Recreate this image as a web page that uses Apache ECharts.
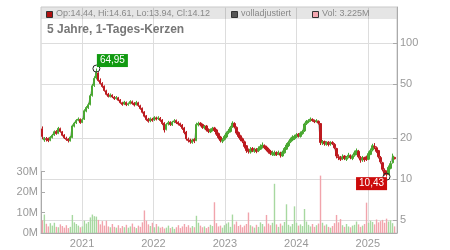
<!DOCTYPE html>
<html><head><meta charset="utf-8">
<script src="https://cdn.jsdelivr.net/npm/echarts@6/dist/echarts.min.js"></script>
<style>html,body{margin:0;padding:0;background:#fff}#c{width:450px;height:250px}</style>
</head><body><div id="c"></div>
<script>
const open = [23.4,19.4,19.8,19.9,19.3,20.2,21.1,22.4,21.7,23.5,
22.3,21.1,20.0,19.7,19.1,20.2,24.5,25.9,27.1,27.5,
26.1,27.6,31.6,33.4,35.4,41.2,48.8,55.4,60.2,53.2,
50.4,48.2,44.6,42.2,40.4,41.4,40.0,39.2,39.6,38.2,
36.4,35.6,36.6,35.4,35.9,37.0,36.2,35.2,36.4,34.6,
33.2,31.2,29.2,27.6,26.8,27.6,27.2,28.2,27.8,28.0,
27.2,25.8,23.2,25.4,26.2,25.0,26.4,27.0,26.2,25.6,
25.0,23.8,22.2,19.6,19.4,18.6,19.6,19.2,25.0,25.8,
25.2,23.8,24.6,23.2,22.2,22.8,23.8,23.0,21.6,20.4,
19.0,19.6,20.4,22.0,22.4,24.2,25.6,24.0,22.0,20.8,
19.8,18.8,17.6,16.4,15.8,16.8,16.0,16.6,16.2,16.6,
17.2,17.6,17.2,16.6,16.0,15.2,15.0,15.7,15.2,15.5,
14.8,15.6,16.6,17.6,18.8,19.4,19.8,20.4,21.4,20.6,
21.6,22.6,25.6,26.4,27.0,27.4,26.8,26.6,26.6,25.6,
18.4,18.9,18.0,18.7,18.2,18.6,18.0,16.8,14.6,14.3,
14.2,14.8,14.0,14.6,14.8,14.2,15.0,15.4,16.0,14.4,
13.9,14.4,14.6,14.0,15.2,16.4,17.4,17.0,16.2,14.4,
13.2,11.6,11.0,10.9,12.0,13.2,14.44];
const close = [20.6,19.9,19.6,19.2,20.3,21.0,22.3,21.6,23.6,22.4,
21.0,20.1,19.6,19.2,20.4,24.6,25.8,27.0,27.6,26.0,
27.4,31.8,33.6,35.2,41.0,48.5,55.0,61.0,53.0,50.5,
48.0,44.8,42.0,40.5,41.6,40.2,39.0,39.8,38.0,36.5,
35.4,36.8,35.2,35.8,37.2,36.0,35.0,36.6,34.8,33.0,
31.0,29.0,27.4,26.6,27.8,27.0,28.4,27.6,28.2,27.0,
25.6,23.0,25.2,26.0,25.2,26.2,26.8,26.0,25.4,24.8,
23.6,22.0,19.8,19.2,18.8,19.4,19.0,25.2,25.6,25.0,
24.0,24.4,23.0,22.4,23.0,23.6,22.8,21.4,20.2,19.2,
19.4,20.6,21.8,22.6,24.0,25.8,24.2,21.8,20.6,19.6,
19.0,17.4,16.2,16.0,16.6,16.2,16.4,16.0,16.8,17.4,
17.8,17.0,16.4,15.8,15.4,15.6,15.6,15.2,15.6,15.0,
15.8,16.8,17.8,18.6,19.6,20.4,20.6,21.2,20.8,21.8,
22.4,25.4,26.6,26.8,27.6,27.0,26.4,26.8,25.8,18.6,
18.8,18.2,18.6,18.0,18.4,18.2,17.0,14.8,14.4,14.0,
14.6,14.2,14.4,15.0,14.4,14.8,15.6,16.2,14.6,13.8,
14.2,13.9,14.0,15.4,16.2,17.6,17.2,16.0,14.6,13.4,
11.8,11.0,10.8,12.2,13.0,14.8,14.12];
const low = [19.6,18.8,18.9,18.7,19.0,19.9,20.8,21.2,21.4,22.0,
20.6,19.7,19.1,18.6,18.9,20.0,24.0,25.4,26.6,25.5,
25.8,27.2,31.0,32.8,34.8,40.4,47.6,54.0,52.0,49.6,
47.0,44.0,41.2,39.8,39.8,39.4,38.2,38.4,37.4,35.8,
34.6,35.0,34.4,34.6,35.4,35.2,34.2,34.8,34.0,32.4,
30.4,28.4,26.8,26.0,26.2,26.4,26.8,27.0,27.2,26.4,
25.0,22.0,22.8,24.8,24.6,24.6,25.8,25.4,24.8,24.2,
23.0,21.4,19.2,18.6,18.2,18.2,18.4,19.0,24.4,24.4,
23.4,23.2,22.4,21.8,21.8,22.4,22.2,20.8,19.6,18.6,
18.4,19.2,20.0,21.4,22.0,23.8,23.6,21.2,20.0,19.0,
18.4,16.8,15.6,15.4,15.4,15.8,15.6,15.5,15.8,16.4,
16.8,16.6,16.0,15.4,15.0,14.8,14.8,14.8,15.0,14.4,
14.6,15.4,16.4,17.2,18.4,19.0,19.4,20.0,20.2,20.2,
21.2,22.2,25.0,25.8,26.4,26.4,25.8,26.0,25.2,17.8,
17.8,17.6,17.6,17.4,17.6,17.8,16.6,14.2,13.8,13.6,
13.8,13.8,13.6,14.2,14.0,13.8,14.6,15.0,14.2,13.2,
13.4,13.4,13.6,13.8,15.0,16.0,16.6,15.6,14.2,13.0,
11.4,10.6,10.43,10.7,11.8,13.0,13.94];
const high = [24.4,20.4,20.4,20.2,20.7,21.5,22.8,22.9,24.2,23.9,
22.6,21.4,20.5,20.0,20.8,25.2,26.4,27.6,28.4,27.9,
28.0,32.6,34.4,36.4,42.2,50.0,57.0,64.95,61.0,55.0,
51.6,48.8,45.4,43.0,42.6,42.0,40.8,40.8,40.2,38.8,
37.0,37.6,37.2,36.6,38.0,37.8,36.8,37.6,37.0,35.2,
33.6,31.6,29.6,28.2,28.4,28.2,29.0,28.8,29.0,28.6,
27.6,26.2,25.8,26.8,26.6,26.8,27.6,27.4,26.6,26.0,
25.4,24.2,22.6,20.2,19.8,19.8,20.0,26.0,26.4,26.2,
25.6,25.0,25.0,23.6,23.6,24.2,24.2,23.4,22.0,20.8,
20.0,21.2,22.4,23.4,24.6,26.6,26.2,24.4,22.4,21.2,
20.2,19.2,17.8,16.8,17.2,17.2,17.0,16.9,17.4,18.0,
18.6,18.0,17.6,17.0,16.4,16.2,16.2,16.0,16.2,15.9,
16.2,17.2,18.4,19.2,20.2,21.0,21.2,21.8,21.8,22.4,
23.0,26.0,27.2,27.6,28.4,28.0,27.4,27.6,27.0,25.8,
19.4,19.2,19.0,19.0,19.0,19.0,18.4,17.0,15.2,14.8,
15.2,15.0,14.8,15.6,15.2,15.2,16.2,16.8,16.4,14.8,
14.8,14.6,14.9,16.0,16.8,18.2,18.4,17.4,16.4,14.8,
13.4,12.0,11.6,12.6,13.6,15.4,14.61];
const volume = [6.2,9.0,4.5,3.2,4.8,3.6,5.0,3.0,2.8,4.2,
3.4,2.6,3.8,2.4,3.0,8.8,5.2,4.4,3.6,2.8,
3.2,6.0,4.6,5.4,7.6,9.0,8.2,8.0,6.4,4.2,
5.8,3.6,6.0,3.2,2.8,4.4,3.0,2.6,3.8,2.4,
3.4,2.8,4.0,2.6,3.2,4.6,3.0,2.4,3.6,3.0,
5.2,11.0,6.0,4.2,3.4,5.0,2.8,4.4,3.2,2.6,
3.0,2.2,2.6,3.6,2.4,3.0,2.0,2.8,3.8,2.4,
3.2,4.4,3.0,3.8,2.6,3.4,2.8,8.4,5.0,3.6,
2.8,3.2,2.4,3.0,4.0,3.4,15.0,4.8,3.2,3.6,
2.6,3.8,4.6,5.2,3.0,9.0,4.2,5.6,3.4,4.0,
2.8,3.6,4.4,10.0,3.8,3.2,2.6,4.0,3.0,5.2,
4.4,3.2,8.8,4.6,3.8,5.0,24.0,4.2,3.0,4.6,
3.6,5.4,14.0,4.0,3.2,4.4,13.0,5.0,3.6,4.2,
3.4,11.7,5.6,4.0,3.2,4.4,3.0,3.8,4.6,28.0,
5.0,3.6,4.2,3.0,2.6,3.4,4.8,8.8,5.2,6.8,
3.8,3.0,4.4,3.2,2.8,3.6,4.0,5.6,4.2,3.0,
3.6,4.4,14.8,5.0,6.0,5.4,4.2,6.6,5.2,5.8,
6.4,5.0,7.0,5.6,6.2,4.8,3.225];
const yearLabels = ['2021','2022','2023','2024','2025'];
const priceTicks = [5, 10, 20, 50, 100];
const firstDay = Date.UTC(2020, 5, 12);
const stepDays = 10.23;
const dayMs = 86400000;
const dates = close.map((_, i) => firstDay + Math.round(i * stepDays * dayMs));
const yearTs = yearLabels.map(y => Date.UTC(+y, 0, 1));
const xMin = Date.UTC(2020, 5, 5), xMax = Date.UTC(2025, 4, 30);

const UP = '#4aa832', DOWN = '#bd1a1f';
const VUP = '#a7d8a0', VDOWN = '#f1a4ac';
const FONT = 'Liberation Sans, Arial, sans-serif';

const candles = dates.map((d, i) => [d, open[i], close[i], low[i], high[i]]);
const vols = dates.map((d, i) => ({value: [d, volume[i]], itemStyle: {color: close[i] >= open[i] ? VUP : VDOWN}}));
let maxI = 0, minI = 0;
high.forEach((v, i) => { if (v > high[maxI]) maxI = i; });
low.forEach((v, i) => { if (v < low[minI]) minI = i; });
const fmt = v => v.toFixed(2).replace('.', ',');
const n = close.length - 1;
const legendText = `Op:${open[n].toFixed(2)}, Hi:${high[n].toFixed(2)}, Lo:${low[n].toFixed(2)}, Cl:${close[n].toFixed(2)}`;

const chart = echarts.init(document.getElementById('c'), null, {renderer: 'canvas'});
const axisGray = '#aaaaaa', labGray = '#999999', gridGray = '#dddddd';
chart.setOption({
  animation: false,
  grid: [
    {left: 41, right: 53, top: 7, bottom: 17, show: true, borderColor: '#c8c8c8', borderWidth: 1},
    {left: 41, right: 53, top: 171.5, bottom: 17}
  ],
  xAxis: [
    {type: 'value', gridIndex: 0, min: xMin, max: xMax, scale: true,
     axisLine: {show: true, lineStyle: {color: axisGray}},
     axisTick: {show: false, customValues: yearTs},
     axisLabel: {customValues: yearTs, formatter: v => String(new Date(v).getUTCFullYear()), color: labGray, fontSize: 11, margin: 5, fontFamily: FONT},
     splitLine: {show: true, lineStyle: {color: gridGray}}},
    {type: 'value', gridIndex: 1, min: xMin, max: xMax, scale: true, show: false, splitLine: {show: false}}
  ],
  yAxis: [
    {type: 'log', logBase: 10, gridIndex: 0, position: 'right', min: 4.02, max: 184,
     axisLine: {show: true, lineStyle: {color: axisGray}},
     axisTick: {show: true, inside: true, length: 4, customValues: priceTicks, lineStyle: {color: axisGray}},
     axisLabel: {customValues: priceTicks, color: labGray, fontSize: 11, margin: 3, fontFamily: FONT},
     splitLine: {show: true, lineStyle: {color: gridGray}}},
    {type: 'value', gridIndex: 1, position: 'left', min: 0, max: 30, interval: 10,
     axisLine: {show: true, lineStyle: {color: axisGray}},
     axisTick: {show: true, inside: true, length: 4, lineStyle: {color: axisGray}},
     axisLabel: {formatter: '{value}M', color: labGray, fontSize: 11, margin: 3, fontFamily: FONT},
     splitLine: {show: false}}
  ],
  series: [
    {type: 'bar', name: 'Vol', xAxisIndex: 1, yAxisIndex: 1, data: vols, barWidth: 1.4, z: 1},
    {type: 'line', name: 'volladjustiert', xAxisIndex: 0, yAxisIndex: 0, data: dates.map((d, i) => [d, close[i]]),
     showSymbol: false, lineStyle: {color: '#aaaaaa', width: 1}, z: 2, silent: true},
    {type: 'candlestick', name: 'Kurs', xAxisIndex: 0, yAxisIndex: 0, data: candles, barWidth: 1.6,
     encode: {x: 0, y: [1, 2, 3, 4]}, z: 3,
     itemStyle: {color: UP, color0: DOWN, borderColor: UP, borderColor0: DOWN, borderWidth: 1},
     markPoint: {
       symbol: 'circle', symbolSize: 7,
       itemStyle: {color: 'rgba(0,0,0,0)', borderColor: '#222', borderWidth: 1},
       label: {show: true, color: '#fff', fontSize: 10, fontFamily: FONT, padding: [2, 3, 1, 3]},
       data: [
         {coord: [dates[maxI], high[maxI]], value: high[maxI],
          label: {formatter: fmt(high[maxI]), backgroundColor: '#119a11', position: 'inside', offset: [16, -8]}},
         {coord: [dates[minI], low[minI]], value: low[minI],
          label: {formatter: fmt(low[minI]), backgroundColor: '#cc0a0a', position: 'inside', offset: [-15, 7]}}
       ]
     }}
  ],
  graphic: [
    {type: 'rect', shape: {x: 41.5, y: 7.5, width: 355, height: 11.5}, style: {fill: 'rgba(0,0,0,0.1)'}, z: 10, silent: true},
    {type: 'rect', shape: {x: 46.5, y: 11.5, width: 6, height: 6}, style: {fill: '#b01010', stroke: '#333', lineWidth: 1}, z: 11},
    {type: 'text', x: 56, y: 13.5, style: {text: legendText, fill: '#888', font: '9px ' + FONT, verticalAlign: 'middle'}, z: 11},
    {type: 'rect', shape: {x: 231.5, y: 11.5, width: 6, height: 6}, style: {fill: '#555', stroke: '#333', lineWidth: 1}, z: 11},
    {type: 'text', x: 241, y: 13.5, style: {text: 'volladjustiert', fill: '#888', font: '9px ' + FONT, verticalAlign: 'middle'}, z: 11},
    {type: 'rect', shape: {x: 312.5, y: 11.5, width: 6, height: 6}, style: {fill: '#f4a8b0', stroke: '#333', lineWidth: 1}, z: 11},
    {type: 'text', x: 322, y: 13.5, style: {text: 'Vol: ' + volume[n].toFixed(3) + 'M', fill: '#888', font: '9px ' + FONT, verticalAlign: 'middle'}, z: 11},
    {type: 'text', x: 47, y: 29.5, style: {text: '5 Jahre, 1-Tages-Kerzen', fill: '#777', font: 'bold 12px ' + FONT, verticalAlign: 'middle'}, z: 11}
  ]
});
</script>
</body></html>
